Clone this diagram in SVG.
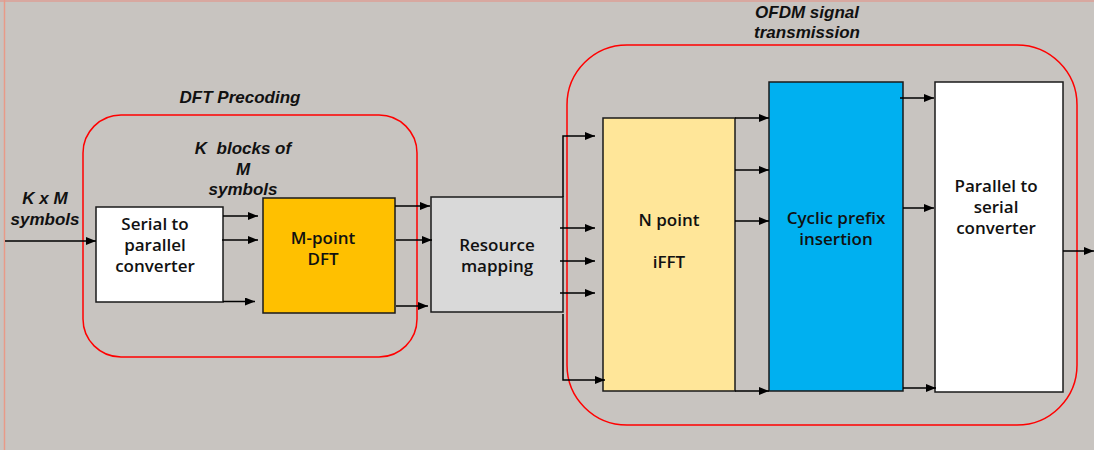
<svg xmlns="http://www.w3.org/2000/svg" width="1094" height="450" viewBox="0 0 1094 450">
<style>
.box{stroke:#1a1a1a;stroke-width:1.5}
.grp{fill:none;stroke:#ff0000;stroke-width:1.5}
.lbl{font-family:"Liberation Sans",Arial,sans-serif;font-weight:bold;font-style:italic;font-size:17px;fill:#111;text-anchor:middle}
.txt{font-family:"Open Sans","Noto Sans",sans-serif;font-weight:600;font-size:17px;fill:#111;text-anchor:middle}
.conn line,.conn polyline{stroke:#000;stroke-width:1.5;fill:none;marker-end:url(#ah)}
</style>
<defs>
<marker id="ah" markerUnits="userSpaceOnUse" markerWidth="11" markerHeight="9" refX="10" refY="4" orient="auto">
<path d="M0,0 L10,4 L0,8 z" fill="#000"/>
</marker>
</defs>
<rect x="0" y="0" width="1094" height="450" fill="#c8c4c0"/>
<line x1="0" y1="1" x2="1094" y2="1" stroke="#d8a8a0" stroke-width="2"/>
<line x1="4.5" y1="0" x2="4.5" y2="450" stroke="#e89a88" stroke-width="1.5"/>

<g id="group-dft-precoding">
<rect class="grp" x="83" y="115" width="334" height="242" rx="38" ry="38"/>
<text class="lbl" x="240" y="103">DFT Precoding</text>
</g>
<g id="group-ofdm">
<rect class="grp" x="567" y="45" width="510" height="380" rx="60" ry="60"/>
<text class="lbl" x="807" y="18">OFDM signal</text>
<text class="lbl" x="807" y="38">transmission</text>
</g>

<g id="label-input">
<text class="lbl" x="45" y="204">K x M</text>
<text class="lbl" x="45" y="225">symbols</text>
</g>
<g id="label-kblocks">
<text class="lbl" x="243" y="154" xml:space="preserve">K  blocks of</text>
<text class="lbl" x="243" y="175">M</text>
<text class="lbl" x="243" y="195">symbols</text>
</g>

<g id="node-sp">
<rect class="box" x="96" y="207" width="127" height="95" fill="#ffffff"/>
<text class="txt" x="155" y="230">Serial to</text>
<text class="txt" x="155" y="251">parallel</text>
<text class="txt" x="155" y="272">converter</text>
</g>
<g id="node-dft">
<rect class="box" x="263" y="198" width="132" height="115" fill="#ffc000"/>
<text class="txt" x="323" y="244">M-point</text>
<text class="txt" x="323" y="265">DFT</text>
</g>
<g id="node-rm">
<rect class="box" x="431" y="197" width="132" height="115" fill="#d9d9d9"/>
<text class="txt" x="497" y="251">Resource</text>
<text class="txt" x="497" y="272">mapping</text>
</g>
<g id="node-ifft">
<rect class="box" x="603" y="118" width="132" height="273" fill="#ffe699"/>
<text class="txt" x="669" y="226">N point</text>
<text class="txt" x="669" y="268">iFFT</text>
</g>
<g id="node-cp">
<rect class="box" x="769" y="82" width="134" height="309" fill="#00b0f0"/>
<text class="txt" x="836" y="224">Cyclic prefix</text>
<text class="txt" x="836" y="245">insertion</text>
</g>
<g id="node-ps">
<rect class="box" x="935" y="82" width="128" height="310" fill="#ffffff"/>
<text class="txt" x="996" y="192">Parallel to</text>
<text class="txt" x="996" y="213">serial</text>
<text class="txt" x="996" y="234">converter</text>
</g>

<g id="connectors" class="conn">
<line x1="5" y1="241" x2="96" y2="241"/>
<line x1="223" y1="216" x2="258" y2="216"/>
<line x1="222" y1="240" x2="258" y2="240"/>
<line x1="223" y1="301.5" x2="255" y2="301.5"/>
<line x1="395" y1="206" x2="430" y2="206"/>
<line x1="396" y1="240" x2="432" y2="240"/>
<line x1="396" y1="306" x2="428" y2="306"/>
<polyline points="563,197 563,136 595,136"/>
<line x1="560" y1="228" x2="595" y2="228"/>
<line x1="560" y1="261" x2="595" y2="261"/>
<line x1="560" y1="293" x2="595" y2="293"/>
<polyline points="563,314 563,380 605,380"/>
<line x1="735" y1="118" x2="769" y2="118"/>
<line x1="735" y1="170" x2="769" y2="170"/>
<line x1="735" y1="221" x2="769" y2="221"/>
<line x1="735" y1="391" x2="769" y2="391"/>
<line x1="900" y1="98" x2="934" y2="98"/>
<line x1="903" y1="208" x2="934" y2="208"/>
<line x1="903" y1="388" x2="936" y2="388"/>
<line x1="1063" y1="251" x2="1094" y2="251"/>
</g>
</svg>
